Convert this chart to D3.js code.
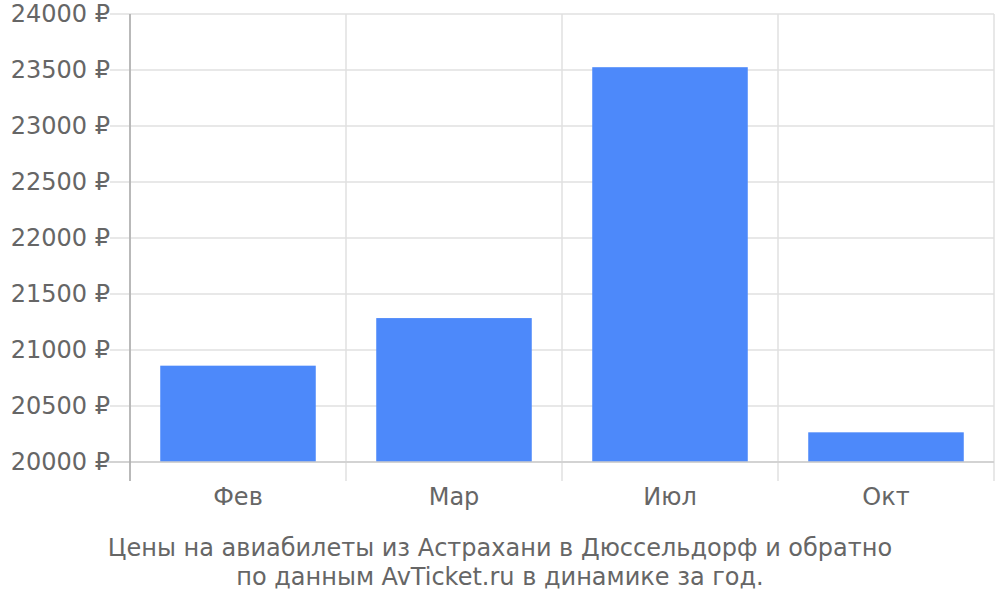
<!DOCTYPE html>
<html><head><meta charset="utf-8">
<script src="https://cdn.jsdelivr.net/npm/d3@7"></script>
<style>body{margin:0;background:#fff}svg{display:block}</style>
</head><body>
<svg id="c" width="1000" height="600"></svg>
<script>
const categories = ["Фев", "Мар", "Июл", "Окт"];
const prices = [20860, 21285, 23525, 20265];
const yTicks = [20000, 20500, 21000, 21500, 22000, 22500, 23000, 23500, 24000];
const titleLines = ["Цены на авиабилеты из Астрахани в Дюссельдорф и обратно", "по данным AvTicket.ru в динамике за год."];

const svg = d3.select("#c");
const m = {l: 130, r: 994, t: 14, b: 462};
const x = d3.scaleBand().domain(categories).range([m.l, m.r]).paddingInner(0.28).paddingOuter(0.14);
const xb = d3.scaleBand().domain(categories).range([m.l, m.r]);
const y = d3.scaleLinear().domain([20000, 24000]).range([m.b, m.t]);
const font = "DejaVu Sans, sans-serif";

// horizontal grid
svg.append("g").selectAll("line").data(yTicks).join("line")
  .attr("x1", 110).attr("x2", m.r).attr("y1", d => y(d)).attr("y2", d => y(d))
  .attr("stroke", "#e0e0e0").attr("stroke-width", 1.5);
// vertical grid at band edges
const edges = categories.map(c => xb(c)).concat([m.r]);
svg.append("g").selectAll("line").data(edges).join("line")
  .attr("x1", d => d).attr("x2", d => d).attr("y1", m.t).attr("y2", 481)
  .attr("stroke", "#e0e0e0").attr("stroke-width", 1.5);
// bars
svg.append("g").selectAll("rect").data(prices).join("rect")
  .attr("x", (d, i) => x(categories[i])).attr("width", x.bandwidth())
  .attr("y", d => y(d)).attr("height", d => y(20000) - y(d))
  .attr("fill", "#4d89fa");
// baseline
svg.append("line").attr("x1", 100).attr("x2", m.r).attr("y1", m.b).attr("y2", m.b)
  .attr("stroke", "#cccccc").attr("stroke-width", 1.5);
// y axis line
svg.append("line").attr("x1", m.l).attr("x2", m.l).attr("y1", m.t).attr("y2", 481)
  .attr("stroke", "#aaaaaa").attr("stroke-width", 1.5);
// y labels
svg.append("g").selectAll("text").data(yTicks).join("text")
  .attr("x", 110).attr("y", d => y(d)).attr("dy", "0.35em").attr("text-anchor", "end")
  .attr("font-family", font).attr("font-size", 24).attr("fill", "#666")
  .text(d => d + " ₽");
// x labels
svg.append("g").selectAll("text").data(categories).join("text")
  .attr("x", d => xb(d) + xb.bandwidth() / 2).attr("y", 505).attr("text-anchor", "middle")
  .attr("font-family", font).attr("font-size", 24).attr("fill", "#666")
  .text(d => d);
// title
svg.append("g").selectAll("text").data(titleLines).join("text")
  .attr("x", 500).attr("y", (d, i) => 556 + i * 29).attr("text-anchor", "middle")
  .attr("font-family", font).attr("font-size", 24).attr("fill", "#666")
  .text(d => d);
</script>
</body></html>
